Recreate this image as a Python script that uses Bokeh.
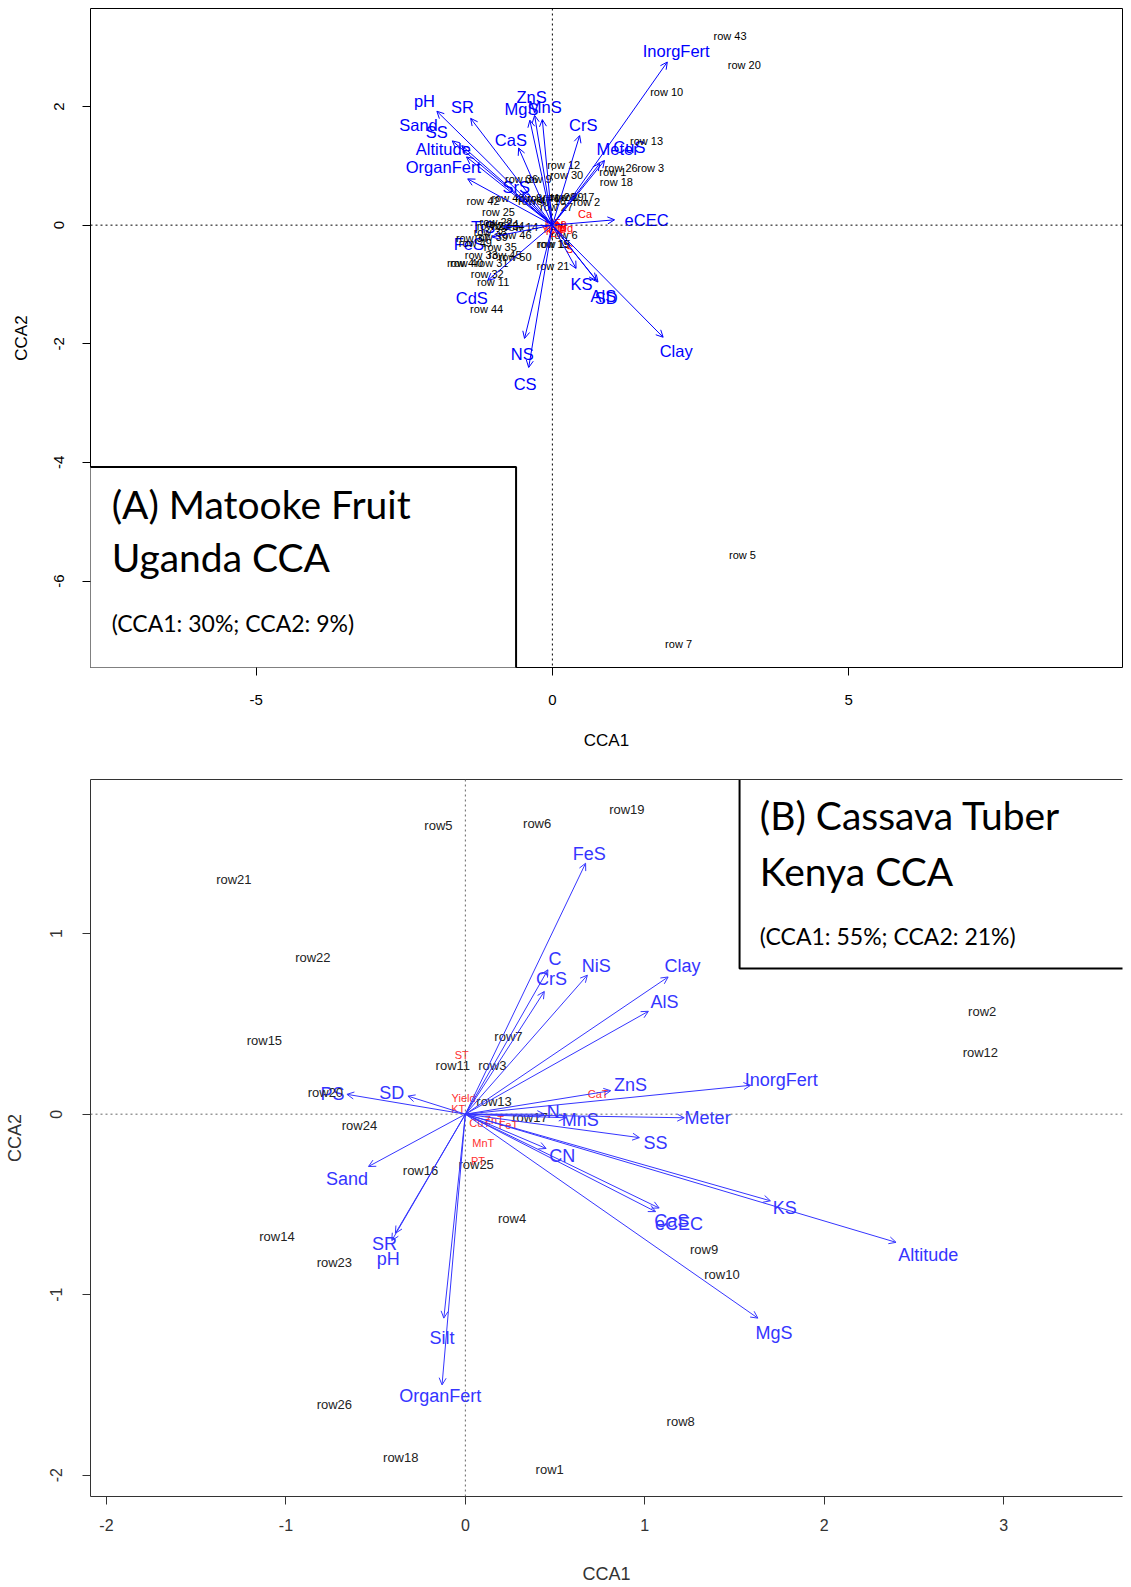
from bokeh.plotting import figure
from bokeh.models import Range1d, Span, Arrow, OpenHead, ColumnDataSource, FixedTicker, LinearAxis, Label
from bokeh.layouts import column
from bokeh.embed import file_html
from bokeh.resources import INLINE
from bokeh.core.properties import value

# ---------------- Panel A: Matooke fruit, Uganda ----------------
a_vec_names = ["pH", "SR", "Sand", "SS", "Altitude", "OrganFert", "CaS", "MgS", "ZnS", "MnS",
               "CrS", "Meter", "CuS", "eCEC", "TiS", "FeS", "CdS", "KS", "AlS", "SD",
               "NS", "CS", "Clay", "InorgFert", "SrS"]
a_vec_x = [-1.95, -1.38, -1.69, -1.53, -1.45, -1.43, -0.57, -0.38, -0.30, -0.17,
           0.46, 0.80, 0.88, 1.05, -0.83, -1.02, -1.09, 0.40, 0.74, 0.77,
           -0.47, -0.40, 1.87, 1.94, -0.50]
a_vec_y = [1.92, 1.80, 1.42, 1.34, 1.15, 0.78, 1.30, 1.77, 1.85, 1.78,
           1.51, 1.04, 1.09, 0.09, -0.03, -0.20, -0.93, -0.73, -0.93, -0.96,
           -1.91, -2.40, -1.89, 2.75, 0.55]
a_lab_x = [-2.16, -1.52, -2.26, -1.95, -1.84, -1.84, -0.70, -0.52, -0.35, -0.13,
           0.52, 1.10, 1.30, 1.59, -1.17, -1.41, -1.36, 0.49, 0.86, 0.91,
           -0.51, -0.46, 2.09, 2.09, -0.61]
a_lab_y = [2.10, 1.99, 1.69, 1.57, 1.29, 0.98, 1.44, 1.95, 2.16, 1.99,
           1.69, 1.29, 1.31, 0.09, -0.03, -0.32, -1.22, -1.00, -1.20, -1.22,
           -2.18, -2.67, -2.12, 2.93, 0.64]

a_site_names = ["row %d" % i for i in range(1, 51)]
a_site_x = [1.02, 0.58, 1.66, -1.55, 3.21, 0.20, 2.13, -0.40, -0.24, 1.93,
            -1.00, 0.19, 1.59, -0.52, 0.03, -0.05, 0.43, 1.08, 0.01, 3.24,
            0.01, -0.95, -1.00, -0.85, -0.91, 1.16, 0.07, 0.12, 0.25, 0.24,
            -1.02, -1.10, -1.20, -0.75, -0.88, -0.52, -1.35, -1.05, -1.03, -1.45,
            -0.15, -1.17, 3.00, -1.11, -0.80, -0.63, -0.30, -0.75, -1.30, -0.63]
a_site_y = [0.89, 0.39, 0.96, -0.64, -5.56, -0.17, -7.06, 0.45, 0.77, 2.24,
            -0.96, 1.02, 1.42, -0.03, -0.31, 0.40, 0.47, 0.73, -0.31, 2.70,
            -0.69, 0.05, -0.02, 0.02, 0.22, 0.96, 0.31, 0.47, 0.47, 0.84,
            -0.64, -0.82, -0.50, -0.02, -0.37, 0.77, -0.22, -0.12, -0.20, -0.64,
            0.45, 0.41, 3.19, -1.41, -0.50, -0.17, 0.40, 0.45, -0.30, -0.53]

a_resp_names = ["Ca", "S", "Yield", "N", "P", "K", "Mg", "Zn", "Fe", "Mn"]
a_resp_x = [0.55, 0.29, 0.02, 0.12, 0.18, -0.05, 0.22, 0.06, 0.13, 0.00]
a_resp_y = [0.18, -0.40, -0.06, 0.00, -0.08, -0.10, -0.04, -0.13, 0.03, 0.02]

a_xticks = [-5, 0, 5]
a_yticks = [-6, -4, -2, 0, 2]

# ---------------- Panel B: Cassava tuber, Kenya ----------------
b_vec_names = ["FeS", "C", "CrS", "NiS", "Clay", "AlS", "ZnS", "InorgFert", "N", "MnS",
               "Meter", "SS", "CN", "CaS", "eCEC", "KS", "Altitude", "MgS", "OrganFert", "Silt",
               "SR", "pH", "Sand", "SD", "PS"]
b_vec_x = [0.67, 0.46, 0.44, 0.68, 1.13, 1.02, 0.81, 1.59, 0.44, 0.56,
           1.22, 0.97, 0.45, 1.08, 1.06, 1.70, 2.40, 1.63, -0.13, -0.12,
           -0.39, -0.41, -0.54, -0.32, -0.66]
b_vec_y = [1.39, 0.80, 0.68, 0.77, 0.76, 0.57, 0.13, 0.16, 0.00, -0.02,
           -0.02, -0.13, -0.19, -0.52, -0.54, -0.48, -0.71, -1.13, -1.50, -1.13,
           -0.66, -0.70, -0.29, 0.10, 0.11]
b_lab_x = [0.69, 0.50, 0.48, 0.73, 1.21, 1.11, 0.92, 1.76, 0.49, 0.64,
           1.35, 1.06, 0.54, 1.15, 1.19, 1.78, 2.58, 1.72, -0.14, -0.13,
           -0.45, -0.43, -0.66, -0.41, -0.74]
b_lab_y = [1.44, 0.86, 0.75, 0.82, 0.82, 0.62, 0.16, 0.19, 0.01, -0.03,
           -0.02, -0.16, -0.23, -0.59, -0.61, -0.52, -0.78, -1.21, -1.56, -1.24,
           -0.72, -0.80, -0.36, 0.12, 0.11]

b_site_names = ["row%d" % i for i in range(1, 27)]
b_site_x = [0.47, 2.88, 0.15, 0.26, -0.15, 0.40, 0.24, 1.20, 1.33, 1.43,
            -0.07, 2.87, 0.16, -1.05, -1.12, -0.25, 0.36, -0.36, 0.90, -0.78,
            -1.29, -0.85, -0.73, -0.59, 0.06, -0.73]
b_site_y = [-1.97, 0.57, 0.27, -0.58, 1.60, 1.61, 0.43, -1.70, -0.75, -0.89,
            0.27, 0.34, 0.07, -0.68, 0.41, -0.31, -0.02, -1.90, 1.69, 0.12,
            1.30, 0.87, -0.82, -0.06, -0.28, -1.61]

b_resp_names = ["ST", "Yield", "KT", "CaT", "MnT", "PT", "CuT", "FeT", "ZnT"]
b_resp_x = [-0.02, -0.01, -0.04, 0.74, 0.10, 0.07, 0.08, 0.24, 0.16]
b_resp_y = [0.33, 0.09, 0.03, 0.11, -0.16, -0.26, -0.05, -0.06, -0.03]

b_xticks = [-2, -1, 0, 1, 2, 3]
b_yticks = [-2, -1, 0, 1]

SANS = "Liberation Sans"
BOXFONT = "Lato"


def hyphen_labels(ticks):
    return {t: ("-%d" % abs(t)) for t in ticks if t < 0}


def style_axes(p, tick_size, title_size, lab_stand, title_stand_x, title_stand_y, xt, yt, col):
    for ax in (p.xaxis[0], p.yaxis[0]):
        ax.major_label_text_font = SANS
        ax.major_label_text_font_size = tick_size
        ax.major_label_text_color = col
        ax.axis_label_text_font = SANS
        ax.axis_label_text_font_size = title_size
        ax.axis_label_text_font_style = "normal"
        ax.axis_label_text_color = col
        ax.major_tick_in = 0
        ax.major_tick_out = 8
        ax.minor_tick_line_color = None
        ax.major_tick_line_color = col
        ax.axis_line_color = None
    p.xaxis[0].ticker = FixedTicker(ticks=xt)
    p.yaxis[0].ticker = FixedTicker(ticks=yt)
    p.xaxis[0].major_label_overrides = hyphen_labels(xt)
    p.yaxis[0].major_label_overrides = hyphen_labels(yt)
    p.xaxis[0].major_label_standoff = lab_stand[0]
    p.yaxis[0].major_label_standoff = lab_stand[1]
    p.xaxis[0].axis_label_standoff = title_stand_x
    p.yaxis[0].axis_label_standoff = title_stand_y
    p.yaxis[0].major_label_orientation = "vertical"
    p.xaxis[0].axis_label = "CCA1"
    p.yaxis[0].axis_label = "CCA2"
    p.grid.visible = False


# ---------- figure A ----------
p1 = figure(width=1130, height=760, x_range=Range1d(-7.797, 9.624), y_range=Range1d(-7.457, 3.652),
            output_backend="svg", toolbar_location=None,
            min_border_left=88, min_border_right=8, min_border_top=8, min_border_bottom=93)
p1.outline_line_color = "black"
p1.outline_line_width = 1
style_axes(p1, "15px", "17px", (19, 18), 23, 21, a_xticks, a_yticks, "black")

p1.add_layout(Span(location=0, dimension="width", line_dash="2 3", line_color="black", line_width=1))
p1.add_layout(Span(location=0, dimension="height", line_dash="2 3", line_color="black", line_width=1))

a_vsrc = ColumnDataSource(dict(x0=[0.0] * len(a_vec_x), y0=[0.0] * len(a_vec_y), x=a_vec_x, y=a_vec_y,
                               lx=a_lab_x, ly=a_lab_y, name=a_vec_names))
p1.add_layout(Arrow(end=OpenHead(size=7, line_color="#0000ff", line_width=1),
                    x_start="x0", y_start="y0", x_end="x", y_end="y", source=a_vsrc,
                    line_color="#0000ff", line_width=1))
p1.text(x="lx", y="ly", text="name", source=a_vsrc, text_font=value(SANS), text_font_size="16.5px",
        text_color="#0000ff", text_align="center", text_baseline="middle")

a_ssrc = ColumnDataSource(dict(x=a_site_x, y=a_site_y, name=a_site_names))
p1.text(x="x", y="y", text="name", source=a_ssrc, text_font=value(SANS), text_font_size="11px",
        text_color="black", text_align="center", text_baseline="middle")

a_rsrc = ColumnDataSource(dict(x=a_resp_x, y=a_resp_y, name=a_resp_names))
p1.text(x="x", y="y", text="name", source=a_rsrc, text_font=value(SANS), text_font_size="11px",
        text_color="#ff0000", text_align="center", text_baseline="middle")

# title box A
p1.quad(left=[-9.0], right=[-0.613], bottom=[-9.0], top=[-4.078], fill_color="white",
        line_color="black", line_width=2)
p1.add_layout(Label(x=-7.44, y=-4.70, text="(A) Matooke Fruit", text_font=BOXFONT,
                    text_font_size="39px", text_color="black", text_baseline="alphabetic"))
p1.add_layout(Label(x=-7.44, y=-5.60, text="Uganda CCA", text_font=BOXFONT,
                    text_font_size="39px", text_color="black", text_baseline="alphabetic"))
p1.add_layout(Label(x=-7.44, y=-6.70, text="(CCA1: 30%; CCA2: 9%)", text_font=BOXFONT,
                    text_font_size="23px", text_color="black", text_baseline="alphabetic"))

# ---------- figure B ----------
p2 = figure(width=1130, height=826, x_range=Range1d(-2.089, 3.662), y_range=Range1d(-2.118, 1.854),
            output_backend="svg", toolbar_location=None,
            min_border_left=90, min_border_right=0, min_border_top=19, min_border_bottom=89)
p2.outline_line_color = None
gcol = "#333333"
style_axes(p2, "16px", "18px", (14, 20), 30, 23, b_xticks, b_yticks, gcol)
p2.xaxis[0].axis_line_color = gcol
p2.yaxis[0].axis_line_color = gcol
top_ax = LinearAxis(ticker=FixedTicker(ticks=[]), major_tick_line_color=None,
                    minor_tick_line_color=None, axis_line_color=gcol)
p2.add_layout(top_ax, "above")

p2.add_layout(Span(location=0, dimension="width", line_dash="2 3", line_color="#666666", line_width=1))
p2.add_layout(Span(location=0, dimension="height", line_dash="2 3", line_color="#666666", line_width=1))

b_vsrc = ColumnDataSource(dict(x0=[0.0] * len(b_vec_x), y0=[0.0] * len(b_vec_y), x=b_vec_x, y=b_vec_y,
                               lx=b_lab_x, ly=b_lab_y, name=b_vec_names))
bblue = "#3535ff"
p2.add_layout(Arrow(end=OpenHead(size=7, line_color=bblue, line_width=1),
                    x_start="x0", y_start="y0", x_end="x", y_end="y", source=b_vsrc,
                    line_color=bblue, line_width=1))
p2.text(x="lx", y="ly", text="name", source=b_vsrc, text_font=value(SANS), text_font_size="18px",
        text_color=bblue, text_align="center", text_baseline="middle")

b_ssrc = ColumnDataSource(dict(x=b_site_x, y=b_site_y, name=b_site_names))
p2.text(x="x", y="y", text="name", source=b_ssrc, text_font=value(SANS), text_font_size="13px",
        text_color="#222222", text_align="center", text_baseline="middle")

b_rsrc = ColumnDataSource(dict(x=b_resp_x, y=b_resp_y, name=b_resp_names))
p2.text(x="x", y="y", text="name", source=b_rsrc, text_font=value(SANS), text_font_size="11px",
        text_color="#ff3030", text_align="center", text_baseline="middle")

# title box B
p2.quad(left=[1.528], right=[4.5], bottom=[0.807], top=[3.0], fill_color="white",
        line_color="black", line_width=2)
p2.add_layout(Label(x=1.641, y=1.658, text="(B) Cassava Tuber", text_font=BOXFONT,
                    text_font_size="39px", text_color="black", text_baseline="alphabetic"))
p2.add_layout(Label(x=1.641, y=1.349, text="Kenya CCA", text_font=BOXFONT,
                    text_font_size="39px", text_color="black", text_baseline="alphabetic"))
p2.add_layout(Label(x=1.641, y=0.986, text="(CCA1: 55%; CCA2: 21%)", text_font=BOXFONT,
                    text_font_size="23px", text_color="black", text_baseline="alphabetic"))

layout = column(p1, p2, spacing=0)
open("out.html", "w").write(file_html(layout, INLINE))
